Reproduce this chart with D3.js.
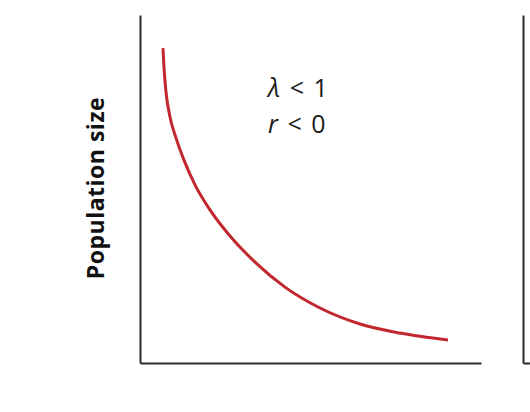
<!DOCTYPE html>
<html>
<head>
<meta charset="utf-8">
<script src="https://cdn.jsdelivr.net/npm/d3@7"></script>
<style>
  body { margin: 0; background: #fff; }
  svg { display: block; }
</style>
</head>
<body>
<div id="chart"></div>
<script>
// curve (time, population size)
const times = [0.674, 0.704, 0.762, 0.880, 1.056, 1.290, 1.613, 2.053, 2.639, 3.372, 4.252, 5.279, 6.452, 7.625, 9.032];
const sizes = [90.5, 84.8, 77.9, 70.7, 64.7, 58.3, 51.2, 44.0, 36.5, 29.0, 21.8, 15.8, 11.2, 8.6, 6.6];
const labels = ["\u03bb < 1", "r < 0"];
const yTitle = "Population size";

const W = 530, H = 412;
const margin = { top: 15, right: 49, bottom: 49, left: 140 };
const width = W - margin.left - margin.right;
const height = H - margin.top - margin.bottom;

const svg = d3.select("#chart").append("svg")
  .attr("width", W)
  .attr("height", H);

const g = svg.append("g")
  .attr("transform", "translate(" + margin.left + "," + margin.top + ")");

const xScale = d3.scaleLinear().domain([0, 10]).range([0, width]);
const yScale = d3.scaleLinear().domain([0, 100]).range([height, 0]);

// axes without ticks
const xAxis = d3.axisBottom(xScale).tickValues([]).tickSizeOuter(0);
const yAxis = d3.axisLeft(yScale).tickValues([]).tickSizeOuter(0);

g.append("g")
  .attr("class", "x-axis")
  .attr("transform", "translate(0," + height + ")")
  .call(xAxis);
g.append("g").attr("class", "y-axis").call(yAxis);

// neighbouring panel, cut off by the right edge
const g2 = svg.append("g")
  .attr("transform", "translate(" + (margin.left + 383) + "," + margin.top + ")");
g2.append("g")
  .attr("transform", "translate(0," + height + ")")
  .call(xAxis);
g2.append("g").call(yAxis);

svg.selectAll(".domain")
  .attr("stroke", "#2b2b2b")
  .attr("stroke-width", 2);

const pts = times.map((t, i) => ({ t: t, n: sizes[i] }));

const line = d3.line()
  .x((d) => xScale(d.t))
  .y((d) => yScale(d.n))
  .curve(d3.curveMonotoneX);

g.append("path")
  .datum(pts)
  .attr("d", line)
  .attr("fill", "none")
  .attr("stroke", "#c1272d")
  .attr("stroke-width", 3)
  .attr("stroke-linecap", "butt");

// λ and r labels, symbol in italics
const labs = g.selectAll(".lab")
  .data(labels)
  .enter()
  .append("text")
  .attr("class", "lab")
  .attr("x", 128)
  .attr("y", (d, i) => 82 + i * 36)
  .attr("font-family", "'Open Sans', 'Noto Sans', sans-serif")
  .attr("font-weight", 400)
  .attr("font-size", 25)
  .attr("word-spacing", 3)
  .attr("fill", "#1a1a1a");

labs.append("tspan").attr("font-style", "italic").text((d) => d.slice(0, 1));
labs.append("tspan").text((d) => d.slice(1));

svg.append("text")
  .attr("transform", "translate(104,188) rotate(-90)")
  .attr("text-anchor", "middle")
  .attr("font-family", "'Open Sans', 'Noto Sans', sans-serif")
  .attr("font-weight", 700)
  .attr("font-size", 23)
  .attr("letter-spacing", 0.5)
  .attr("fill", "#111")
  .text(yTitle);
</script>
</body>
</html>
